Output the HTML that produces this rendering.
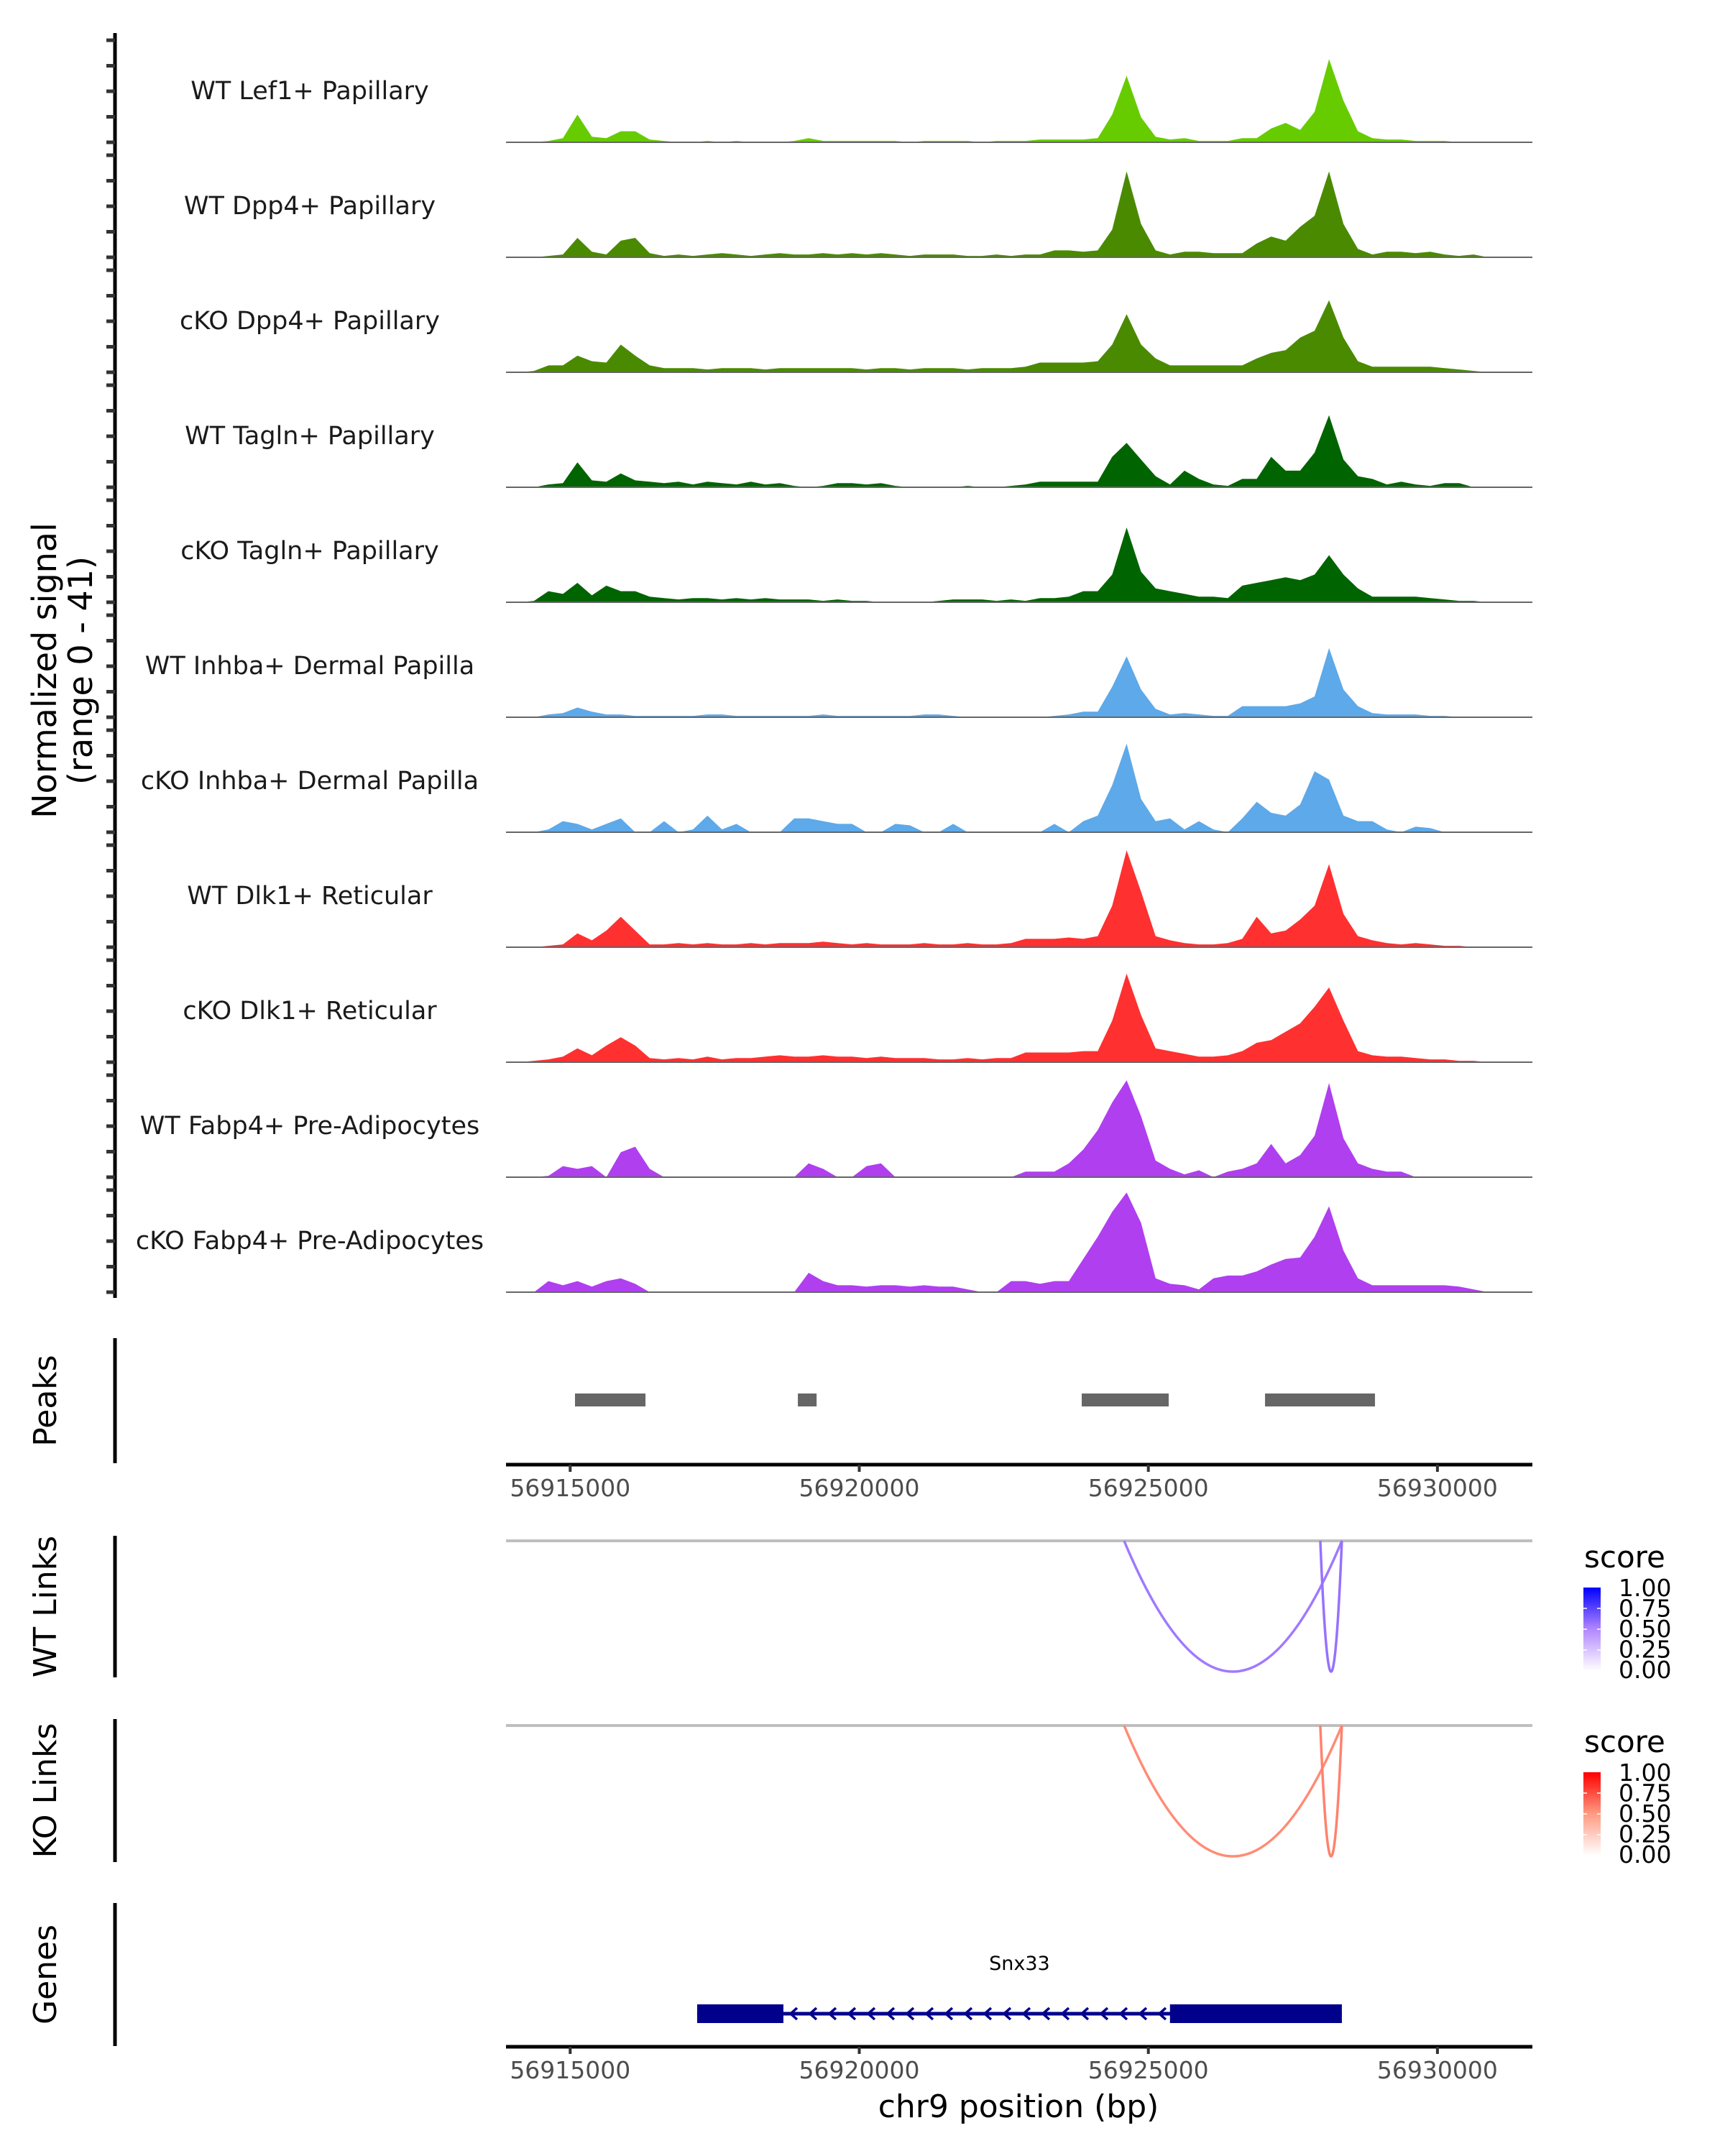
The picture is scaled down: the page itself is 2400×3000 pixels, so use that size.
<!DOCTYPE html>
<html><head><meta charset="utf-8"><style>
html,body{margin:0;padding:0;background:#fff;}
svg{display:block;font-family:"DejaVu Sans","Liberation Sans",sans-serif;}
</style></head><body>
<svg id="chart" width="2400" height="3000" viewBox="0 0 2400 3000" xmlns="http://www.w3.org/2000/svg"></svg>
<script>
// ---------- data ----------
const binStart = 56914000;
const binSize = 250;
const trackNames = ["WT Lef1+ Papillary","WT Dpp4+ Papillary","cKO Dpp4+ Papillary","WT Tagln+ Papillary","cKO Tagln+ Papillary","WT Inhba+ Dermal Papilla","cKO Inhba+ Dermal Papilla","WT Dlk1+ Reticular","cKO Dlk1+ Reticular","WT Fabp4+ Pre-Adipocytes","cKO Fabp4+ Pre-Adipocytes"];
const trackColors = ["#66cc00","#4a8a00","#4a8a00","#006400","#006400","#5da9e9","#5da9e9","#ff3030","#ff3030","#b03ff0","#b03ff0"];
const sigWTLef1 = [0,0,.5,1.5,10,2,1.5,4,4,1, .5,0,0,.5,0,.5,0,0,0,.5, 1.5,.5,.5,.5,.5,.5,.5,0,.5,.5, .5,.5,0,.5,.5,.5,1,1,1,1, 1.5,10,24,9,2,1,1.5,.5,.5,.5, 1.5,1.5,5,7,4.5,11,30,15,4,1.5, 1,1,.5,.5,.5,0,0,0];
const sigWTDpp4 = [0,0,.5,1,7,2,1,6,7,1.5, .5,1,.5,1,1.5,1,.5,1,1.5,1, 1,1.5,1,1.5,1,1.5,1,.5,1,1, 1,.5,.5,1,.5,1,1,2.5,2.5,2, 2.5,10,31,12,2.5,1,2,2,1.5,1.5, 1.5,5,7.5,6,11,15,31,12,3,1, 2,2,1.5,2,1,.5,1,0];
const sigKODpp4 = [0,.5,2.5,2.5,6,4,3.5,10,6,2.5, 1.5,1.5,1.5,1,1.5,1.5,1.5,1,1.5,1.5, 1.5,1.5,1.5,1.5,1,1.5,1.5,1,1.5,1.5, 1.5,1,1.5,1.5,1.5,2,3.5,3.5,3.5,3.5, 4,10,21,10,5,2.5,2.5,2.5,2.5,2.5, 2.5,5,7,8,12.5,15,26,12.5,4,2, 2,2,2,2,1.5,1,.5,0];
const sigWTTagln = [0,0,1,1.5,9,2.5,2,5,2.5,2, 1.5,2,1,2,1.5,1,2,1,1.5,.5, 0,.5,1.5,1.5,1,1.5,.5,0,0,0, 0,.5,0,0,.5,1,2,2,2,2, 2,11,16,10,4,1,6,3,1,.5, 3,3,11,6,6,12.5,26,10,4,3, 1,2,1,.5,1.5,1.5,0,0];
const sigKOTagln = [0,.5,4,3,7,2.5,6,4,4,2, 1.5,1,1.5,1.5,1,1.5,1,1.5,1,1, 1,.5,1,.5,.5,0,0,0,0,.5, 1,1,1,.5,1,.5,1.5,1.5,2,4, 4,10,27,11,5,4,3,2,2,1.5, 6,7,8,9,8,10,17,10,5,2, 2,2,2,1.5,1,.5,.5,0];
const sigWTInhba = [0,0,1,1.5,3.5,2,1,1,.5,.5, .5,.5,.5,1,1,.5,.5,.5,.5,.5, .5,1,.5,.5,.5,.5,.5,.5,1,1, .5,0,0,0,0,0,0,.5,1,2, 2,11,22,10,3,1,1.5,1,.5,.5, 4,4,4,4,5,7.5,25,10,4,1.5, 1,1,1,.5,.5,0,0,0];
const sigKOInhba = [0,0,1,4,3,1,3,5,0,0, 4,0,1,6,1,3,0,0,0,5, 5,4,3,3,0,0,3,2.5,0,0, 3,0,0,0,0,0,0,3,0,4, 6,17,32,12,4,5,1,4,1,0, 5,11,7,6,10,22,19,6,4,4, 1,0,2,1.5,0,0,0,0];
const sigWTDlk1 = [0,0,.5,1,5,2.5,6,11,6,1, 1,1.5,1,1.5,1,1,1.5,1,1.5,1.5, 1.5,2,1.5,1,1.5,1,1,1,1.5,1, 1,1.5,1,1,1.5,3,3,3,3.5,3, 4,15,35,20,4,2.5,1.5,1,1,1.5, 3,11,5,6,10,15,30,12,4,2.5, 1.5,1,1.5,1,.5,.5,0,0];
const sigKODlk1 = [0,.5,1,2,5,2.5,6,9,6,1.5, 1,1.5,1,2,1,1.5,1.5,2,2.5,2, 2,2.5,2,2,1.5,2,1.5,1.5,1.5,1, 1,1.5,1,1.5,1.5,3.5,3.5,3.5,3.5,4, 4,15,32,17,5,4,3,2,2,2.5, 4,7,8,11,14,20,27,15,4,2.5, 2,2,1.5,1,1,.5,.5,0];
const sigWTFabp4 = [0,0,.5,4,3,4,0,9,11,3, 0,0,0,0,0,0,0,0,0,0, 5,3,0,0,4,5,0,0,0,0, 0,0,0,0,0,2,2,2,5,10, 17,27,35,22,6,3,1,2.5,0,2, 3,5,12,5,8,15,34,14,5,3, 2,2,0,0,0,0,0,0];
const sigKOFabp4 = [0,0,4,2.5,4,2,4,5,3,0, 0,0,0,0,0,0,0,0,0,0, 7,4,2.5,2.5,2,2.5,2.5,2,2.5,2, 2,1,0,0,4,4,3,4,4,12, 20,29,36,25,5,3,2.5,1,5,6, 6,7.5,10,12,12.5,20,31,15,5,2.5, 2.5,2.5,2.5,2.5,2.5,2,1,0];
const signals = [sigWTLef1,sigWTDpp4,sigKODpp4,sigWTTagln,sigKOTagln,sigWTInhba,sigKOInhba,sigWTDlk1,sigKODlk1,sigWTFabp4,sigKOFabp4];
const signalMax = 41;
const peakStarts = [56915083,56918938,56923848,56927018];
const peakEnds = [56916302,56919262,56925352,56928920];
const xTicks = [56915000,56920000,56925000,56930000];
const wtLinkStart = [56924581,56927974];
const wtLinkEnd = [56928347,56928347];
const wtLinkScore = [0.55,0.58];
const koLinkStart = [56924581,56927974];
const koLinkEnd = [56928347,56928347];
const koLinkScore = [0.55,0.58];
const legendTicks = ["1.00","0.75","0.50","0.25","0.00"];
const geneName = "Snx33";
const geneStart = 56917196, geneEnd = 56928347;
const exonStarts = [56917196,56925374];
const exonEnds = [56918688,56928347];

// ---------- helpers ----------
const NS = "http://www.w3.org/2000/svg";
const svg = document.getElementById("chart");
function mk(tag, attrs, parent){const e=document.createElementNS(NS,tag);for(const k in attrs)e.setAttribute(k,attrs[k]);(parent||svg).appendChild(e);return e;}
const X0 = 793.3, PX_PER_BP = 0.08044;
function xScale(bp){return X0 + (bp-56915000)*PX_PER_BP;}
const plotL = 704, plotR = 2132;
const baseY0 = 198, trackStep = 160, trackH = 158;
function yScale(v, base){return base - v/signalMax*trackH;}

// ---------- left axis ----------
let e = mk("line",{x1:160,y1:46,x2:160,y2:1806,stroke:"#000","stroke-width":5});
 
for(let t=0;t<signals.length;t++){
  const base = baseY0 + t*trackStep;
  for(let k=0;k<5;k++){
    const tk = mk("line",{x1:148,x2:160,y1:base-k*35.5,y2:base-k*35.5,stroke:"#333","stroke-width":5});
     
  }
}
e = mk("text",{x:0,y:0,"font-size":46,fill:"#000","text-anchor":"middle",transform:"translate(78,933) rotate(-90)"});
e.textContent="Normalized signal";
 
e = mk("text",{x:0,y:0,"font-size":46,fill:"#000","text-anchor":"middle",transform:"translate(128,933) rotate(-90)"});
e.textContent="(range 0 - 41)";
 

// ---------- tracks ----------
for(let t=0;t<signals.length;t++){
  const base = baseY0 + t*trackStep;
  const vals = signals[t];
  const g = mk("g",{});
  
  
  let d = "M"+xScale(binStart).toFixed(1)+","+base;
  for(let i=0;i<vals.length;i++){
    const c = binStart + binSize*i + binSize/2;
    d += " L"+xScale(c).toFixed(1)+","+yScale(vals[i],base).toFixed(1);
  }
  d += " L"+xScale(binStart+binSize*vals.length).toFixed(1)+","+base+" Z";
  const p = mk("path",{d:d,fill:trackColors[t]},g);
   
  const bl = mk("line",{x1:plotL,x2:plotR,y1:base,y2:base,stroke:"#666","stroke-width":2},g);
   
  const lb = mk("text",{x:431,y:base-60,"font-size":35,fill:"#1a1a1a","text-anchor":"middle"},g);
  lb.textContent = trackNames[t];
   
}

// ---------- section labels ----------
function sideLabel(text, y1, y2, name){
  const l = mk("line",{x1:160,x2:160,y1:y1,y2:y2,stroke:"#000","stroke-width":5});
   
  const tx = mk("text",{x:0,y:0,"font-size":44,fill:"#000","text-anchor":"middle",transform:"translate(78,"+((y1+y2)/2)+") rotate(-90)"});
  tx.textContent = text;
   
}
sideLabel("Peaks",1862,2036,"peaks");
sideLabel("WT Links",2137,2334,"wt-links");
sideLabel("KO Links",2392,2591,"ko-links");
sideLabel("Genes",2648,2847,"genes");

// ---------- peaks ----------
for(let i=0;i<peakStarts.length;i++){
  const r = mk("rect",{x:xScale(peakStarts[i]),y:1939,width:xScale(peakEnds[i])-xScale(peakStarts[i]),height:18,fill:"#666"});
   
}
function xAxis(y, name){
  const l = mk("line",{x1:plotL,x2:plotR,y1:y,y2:y,stroke:"#000","stroke-width":5});
   
  for(const t of xTicks){
    const x = xScale(t);
    const tk = mk("line",{x1:x,x2:x,y1:y,y2:y+10,stroke:"#333","stroke-width":4});
     
    const tx = mk("text",{x:x,y:y+44,"font-size":33,fill:"#4d4d4d","text-anchor":"middle"});
    tx.textContent = String(t);
     
  }
}
xAxis(2038,"peaks-x-axis");

// ---------- links ----------
function scoreColor(s, stops){
  // stops: [white, mid, full] colour ramp (Lab-like, via mid stop)
  let a,b,f;
  if(s<=0.5){a=stops[0];b=stops[1];f=s/0.5;} else {a=stops[1];b=stops[2];f=(s-0.5)/0.5;}
  const m = i=>Math.round(a[i]+(b[i]-a[i])*f);
  return "rgb("+m(0)+","+m(1)+","+m(2)+")";
}
const blueRamp = [[255,255,255],[178,135,255],[0,0,255]];
const redRamp = [[255,255,255],[255,155,130],[255,0,0]];
function linkPanel(top, starts, ends, scores, ramp, name){
  const gl = mk("line",{x1:plotL,x2:plotR,y1:top,y2:top,stroke:"#bfbfbf","stroke-width":4});
   
  for(let i=0;i<starts.length;i++){
    const x1 = xScale(starts[i]), x2 = xScale(ends[i]);
    const depth = 182;
    const p = mk("path",{d:"M"+x1+","+top+" Q"+((x1+x2)/2)+","+(top+2*depth)+" "+x2+","+top,fill:"none",stroke:scoreColor(scores[i],ramp),"stroke-width":3.5});
     
  }
}
linkPanel(2144, wtLinkStart, wtLinkEnd, wtLinkScore, blueRamp, "wt-link");
linkPanel(2401, koLinkStart, koLinkEnd, koLinkScore, redRamp, "ko-link");

function legend(top, ramp, id, name){
  const defs = mk("defs",{});
  const lg = mk("linearGradient",{id:id,x1:0,y1:1,x2:0,y2:0},defs);
  mk("stop",{offset:"0","stop-color":"rgb("+ramp[0].join(",")+")"},lg);
  mk("stop",{offset:"0.5","stop-color":"rgb("+ramp[1].join(",")+")"},lg);
  mk("stop",{offset:"1","stop-color":"rgb("+ramp[2].join(",")+")"},lg);
  const tt = mk("text",{x:2204,y:top,"font-size":42,fill:"#000"});
  tt.textContent = "score";
   
  const r = mk("rect",{x:2203,y:top+28,width:24,height:116,fill:"url(#"+id+")"});
   
  for(let i=0;i<legendTicks.length;i++){
    const yy = top+28+i*29;
    if(i>0&&i<4){
      mk("line",{x1:2203,x2:2208,y1:yy,y2:yy,stroke:"#fff","stroke-width":1.5});
      mk("line",{x1:2222,x2:2227,y1:yy,y2:yy,stroke:"#fff","stroke-width":1.5});
    }
    const tx = mk("text",{x:2252,y:top+40+i*28.5,"font-size":33,fill:"#000"});
    tx.textContent = legendTicks[i];
     
  }
}
legend(2181,blueRamp,"gradWT","wt-legend");
legend(2438,redRamp,"gradKO","ko-legend");

// ---------- gene ----------
const gName = mk("text",{x:(xScale(geneStart)+xScale(geneEnd))/2,y:2741,"font-size":27,fill:"#000","text-anchor":"middle"});
gName.textContent = geneName;
 
const gl = mk("line",{x1:xScale(geneStart),x2:xScale(geneEnd),y1:2802,y2:2802,stroke:"#00008b","stroke-width":5});
 
for(let x=xScale(exonEnds[0])+10;x<xScale(exonStarts[1])-5;x+=27){
  const c = mk("path",{d:"M"+(x+9)+",2794 L"+x+",2802 L"+(x+9)+",2810",fill:"none",stroke:"#00008b","stroke-width":3.5});
   
}
for(let i=0;i<exonStarts.length;i++){
  const r = mk("rect",{x:xScale(exonStarts[i]),y:2789,width:xScale(exonEnds[i])-xScale(exonStarts[i]),height:26,fill:"#00008b"});
   
}
xAxis(2848,"genes-x-axis");
const xt = mk("text",{x:1417,y:2946,"font-size":44,fill:"#000","text-anchor":"middle"});
xt.textContent = "chr9 position (bp)";
 
</script>
</body></html>
